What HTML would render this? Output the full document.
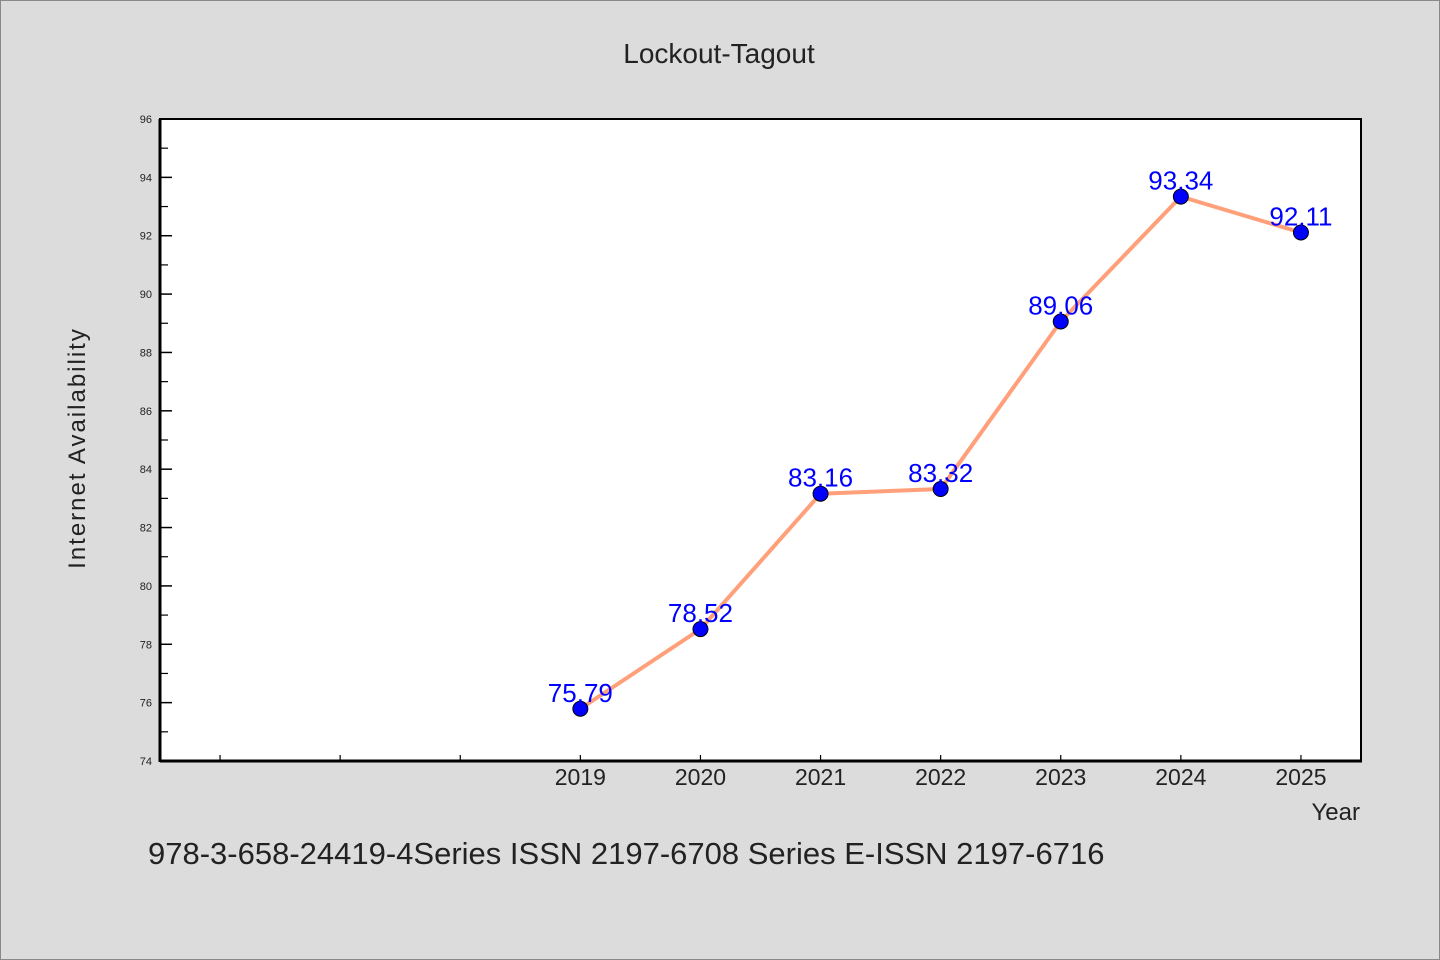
<!DOCTYPE html>
<html><head><meta charset="utf-8"><style>
body{margin:0;background:#dcdcdc;}
svg{display:block;font-family:"WenQuanYi Zen Hei","Liberation Sans",sans-serif;}
</style></head><body>
<svg width="1440" height="960">
<rect x="0.5" y="0.5" width="1439" height="959" fill="#dcdcdc" stroke="#888"/>
<text x="719" y="63" text-anchor="middle" font-size="28" fill="#222">Lockout-Tagout</text>
<rect x="160" y="119" width="1201" height="642" fill="#fff" stroke="#000" stroke-width="2"/>
<g id="axes"></g>
<g id="marks"></g>
<text transform="translate(85,448) rotate(-90)" text-anchor="middle" font-size="24" fill="#222" letter-spacing="2">Internet Availability</text>
<text x="1360" y="820" text-anchor="end" font-size="24" fill="#222">Year</text>
<text x="148" y="864" font-size="31" fill="#222">978-3-658-24419-4Series ISSN 2197-6708 Series E-ISSN 2197-6716</text>
</svg>
<script>
const categories=["","","","2019","2020","2021","2022","2023","2024","2025"];
const values=[null,null,null,75.79,78.52,83.16,83.32,89.06,93.34,92.11];
const valueLabels=["","","","75.79","78.52","83.16","83.32","89.06","93.34","92.11"];
const yTicks=[74,76,78,80,82,84,86,88,90,92,94,96];
const NS="http://www.w3.org/2000/svg";
const L=160,R=1361,T=119,B=761,yMin=74,yMax=96;
const x=i=>L+(R-L)/categories.length*(i+0.5);
const y=v=>B-(v-yMin)/(yMax-yMin)*(B-T);
function mk(t,a,p){const e=document.createElementNS(NS,t);for(const k in a)e.setAttribute(k,a[k]);p.appendChild(e);return e;}
const ax=document.getElementById('axes'),mg=document.getElementById('marks');
yTicks.forEach((v,i)=>{
 const l=mk('line',{x1:L,x2:L+12,y1:y(v),y2:y(v),stroke:'#000','stroke-width':1.5},ax);
 
 
 const t=mk('text',{x:L-8,y:y(v)+4,'text-anchor':'end','font-size':11,fill:'#222'},ax);
 t.textContent=v;
 
 
 if(i<yTicks.length-1){
  const m=mk('line',{x1:L,x2:L+8,y1:y(v+1),y2:y(v+1),stroke:'#000','stroke-width':1.2},ax);
  
  
 }
});
categories.forEach((c,i)=>{
 const l=mk('line',{x1:x(i),x2:x(i),y1:B,y2:B-6,stroke:'#000','stroke-width':1.2},ax);
 
 
 if(c){
  const t=mk('text',{x:x(i),y:B+24,'text-anchor':'middle','font-size':23,fill:'#222'},ax);
  t.textContent=c;
  
  
 }
});
mk('line',{x1:L,x2:R+1,y1:B,y2:B,stroke:'#000','stroke-width':3},ax);
mk('line',{x1:L,x2:L,y1:T,y2:B+1,stroke:'#000','stroke-width':3},ax);
const pts=[];values.forEach((v,i)=>{if(v!=null)pts.push(x(i)+','+y(v));});
const pl=mk('polyline',{points:pts.join(' '),fill:'none',stroke:'#ffa07a','stroke-width':4,'stroke-linejoin':'round'},mg);


values.forEach((v,i)=>{if(v==null)return;
 const c=mk('circle',{cx:x(i),cy:y(v),r:7.5,fill:'#0000ff',stroke:'#000','stroke-width':1},mg);
 
 
 const t=mk('text',{x:x(i),y:y(v)-7,'text-anchor':'middle','font-size':26,fill:'#0000ff'},mg);
 t.textContent=valueLabels[i];
 
 
});
</script>
</body></html>
